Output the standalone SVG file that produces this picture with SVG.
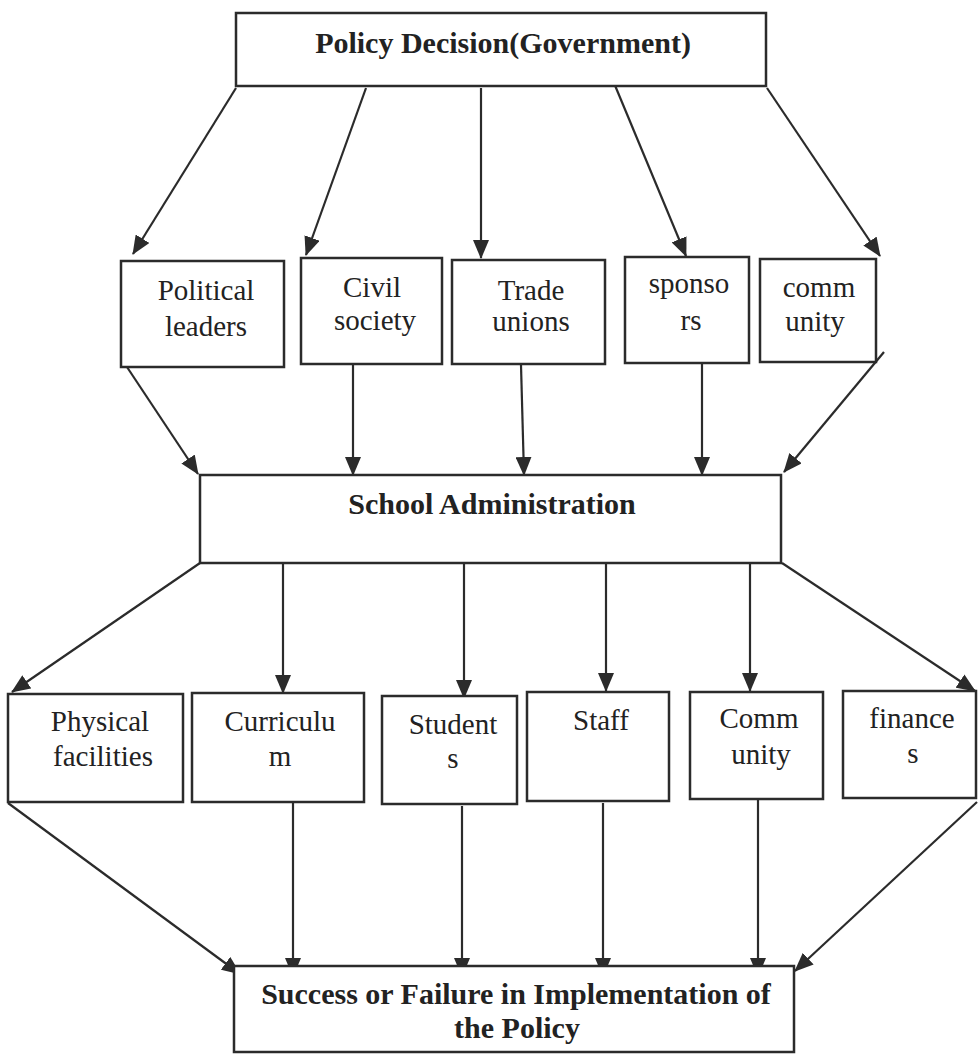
<svg xmlns="http://www.w3.org/2000/svg" width="978" height="1054" viewBox="0 0 978 1054">
<style>
.box{fill:#fff;stroke:#2b2b2b;stroke-width:2.5}
.t{font-family:"Liberation Serif","Times New Roman",serif;font-size:29px;fill:#222;text-anchor:middle}
.b{font-family:"Liberation Serif","Times New Roman",serif;font-size:30px;font-weight:bold;fill:#222;text-anchor:middle}
.c{stroke:#2b2b2b;stroke-width:2.2;fill:none;marker-end:url(#ah)}
</style>
<defs>
<marker id="ah" markerUnits="userSpaceOnUse" markerWidth="19" markerHeight="16" refX="18" refY="8" orient="auto">
<path d="M0,0 L19,8 L0,16 z" fill="#2b2b2b"/>
</marker>
</defs>
<rect width="978" height="1054" fill="#fff"/>
<g id="connectors">
<line class="c" x1="236" y1="88" x2="133" y2="254"/>
<line class="c" x1="366" y1="88" x2="306" y2="255"/>
<line class="c" x1="481" y1="88" x2="481" y2="258"/>
<line class="c" x1="614" y1="83" x2="686" y2="256"/>
<line class="c" x1="767" y1="88" x2="880" y2="256"/>
<line class="c" x1="121" y1="358" x2="198" y2="474"/>
<line class="c" x1="353" y1="365" x2="353" y2="475"/>
<line class="c" x1="521" y1="365" x2="524" y2="475"/>
<line class="c" x1="702" y1="363" x2="702" y2="475"/>
<line class="c" x1="884" y1="352" x2="784" y2="472"/>
<line class="c" x1="200" y1="563" x2="12" y2="692"/>
<line class="c" x1="283" y1="563" x2="283" y2="693"/>
<line class="c" x1="464" y1="563" x2="464" y2="698"/>
<line class="c" x1="606" y1="563" x2="606" y2="691"/>
<line class="c" x1="750" y1="563" x2="750" y2="691"/>
<line class="c" x1="782" y1="563" x2="975" y2="691"/>
<line class="c" x1="8" y1="803" x2="240" y2="974"/>
<line class="c" x1="293" y1="803" x2="293" y2="976"/>
<line class="c" x1="462" y1="806" x2="462" y2="976"/>
<line class="c" x1="603" y1="803" x2="603" y2="976"/>
<line class="c" x1="758" y1="800" x2="758" y2="976"/>
<line class="c" x1="977" y1="802" x2="795" y2="971"/>
</g>
<g id="policy"><rect class="box" x="236" y="13" width="530" height="73"/><text class="b" x="503" y="53">Policy Decision(Government)</text></g>
<g id="political"><rect class="box" x="121" y="261" width="163" height="106"/><text class="t" x="206" y="300">Political</text><text class="t" x="206" y="336">leaders</text></g>
<g id="civil"><rect class="box" x="301" y="258" width="141" height="106"/><text class="t" x="372" y="297">Civil</text><text class="t" x="375" y="330">society</text></g>
<g id="trade"><rect class="box" x="452" y="260" width="153" height="104"/><text class="t" x="531" y="300">Trade</text><text class="t" x="531" y="331">unions</text></g>
<g id="sponsors"><rect class="box" x="625" y="257" width="124" height="106"/><text class="t" x="689" y="293">sponso</text><text class="t" x="691" y="330">rs</text></g>
<g id="community1"><rect class="box" x="760" y="259" width="116" height="103"/><text class="t" x="819" y="297">comm</text><text class="t" x="815" y="331">unity</text></g>
<g id="school"><rect class="box" x="200" y="475" width="581" height="88"/><text class="b" x="492" y="514">School Administration</text></g>
<g id="physical"><rect class="box" x="8" y="694" width="175" height="108"/><text class="t" x="100" y="731">Physical</text><text class="t" x="103" y="766">facilities</text></g>
<g id="curriculum"><rect class="box" x="192" y="693" width="172" height="109"/><text class="t" x="280" y="731">Curriculu</text><text class="t" x="280" y="766">m</text></g>
<g id="students"><rect class="box" x="382" y="696" width="135" height="108"/><text class="t" x="453" y="734">Student</text><text class="t" x="453" y="768">s</text></g>
<g id="staff"><rect class="box" x="527" y="692" width="142" height="109"/><text class="t" x="601" y="730">Staff</text></g>
<g id="community2"><rect class="box" x="690" y="692" width="133" height="107"/><text class="t" x="759" y="728">Comm</text><text class="t" x="761" y="764">unity</text></g>
<g id="finances"><rect class="box" x="843" y="691" width="133" height="107"/><text class="t" x="912" y="728">finance</text><text class="t" x="913" y="763">s</text></g>
<g id="outcome"><rect class="box" x="234" y="966" width="560" height="86"/><text class="b" x="516" y="1004">Success or Failure in Implementation of</text><text class="b" x="517" y="1038">the Policy</text></g>
</svg>
